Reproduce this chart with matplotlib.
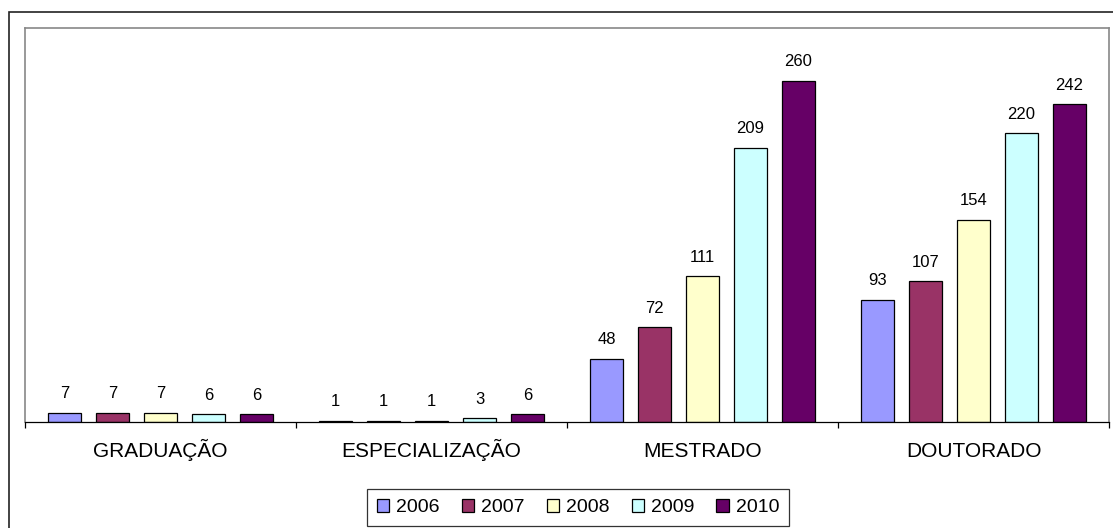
import numpy as np
import matplotlib
matplotlib.use("Agg")
import matplotlib.pyplot as plt
from matplotlib.patches import Rectangle

plt.rcParams['font.family'] = ['Liberation Sans', 'DejaVu Sans']

categories = ["GRADUAÇÃO", "ESPECIALIZAÇÃO", "MESTRADO", "DOUTORADO"]
years = ["2006", "2007", "2008", "2009", "2010"]
v2006 = [7, 1, 48, 93]
v2007 = [7, 1, 72, 107]
v2008 = [7, 1, 111, 154]
v2009 = [6, 3, 209, 220]
v2010 = [6, 6, 260, 242]
series = [v2006, v2007, v2008, v2009, v2010]
colors = ["#9999FF", "#993366", "#FFFFCC", "#CCFFFF", "#660066"]

W, H = 1113, 528
fig = plt.figure(figsize=(W / 100, H / 100), dpi=100)

# outer chart border (runs off the right and bottom edges)
fig.patches.append(Rectangle((9 / W, -0.05), 1.2, 1 - 12 / H + 0.05,
                             transform=fig.transFigure, fill=False,
                             edgecolor="#222222", linewidth=1.2))

ax = fig.add_axes([25 / W, (H - 422) / H, (1109 - 25) / W, (422 - 28) / H])

x = np.arange(len(categories))
pitch = 48 / 271
width = 33 / 271
for i, (vals, col, yr) in enumerate(zip(series, colors, years)):
    pos = x + (i - 2) * pitch
    bars = ax.bar(pos, vals, width=width, color=col, edgecolor="black",
                  linewidth=0.9, label=yr, zorder=3)
    for b, v in zip(bars, vals):
        ax.annotate(str(v), (b.get_x() + b.get_width() / 2, v),
                    xytext=(0, 8.3), textcoords="offset points",
                    ha="center", va="bottom", fontsize=12)

ax.set_xlim(-0.5, len(categories) - 0.5)
ax.set_ylim(0, 300)
ax.set_yticks([])
ax.set_xticks(np.arange(-0.5, len(categories)), labels=[])
ax.tick_params(axis="x", which="major", direction="out", length=4.5,
               width=0.9, color="black")

# category names share one baseline below the axis
for xi, name in zip(x, categories):
    ax.annotate(name, (xi, 0), xycoords=("data", "axes fraction"),
                xytext=(0, -25.2), textcoords="offset points",
                ha="center", va="baseline", fontsize=15)

for s in ("top", "right", "left"):
    ax.spines[s].set_color("#888888")
    ax.spines[s].set_linewidth(1.2)
ax.spines["bottom"].set_color("black")
ax.spines["bottom"].set_linewidth(0.9)
ax.spines["bottom"].set_zorder(4)

leg = fig.legend(loc="lower center", bbox_to_anchor=(578 / W, 2 / H),
                 ncol=5, fontsize=14, frameon=True, fancybox=False,
                 edgecolor="black", handlelength=0.62, handleheight=0.62,
                 handletextpad=0.36, columnspacing=1.15, borderpad=0.5,
                 borderaxespad=0)
leg.get_frame().set_linewidth(0.9)

fig.savefig("out.png", dpi=100)
